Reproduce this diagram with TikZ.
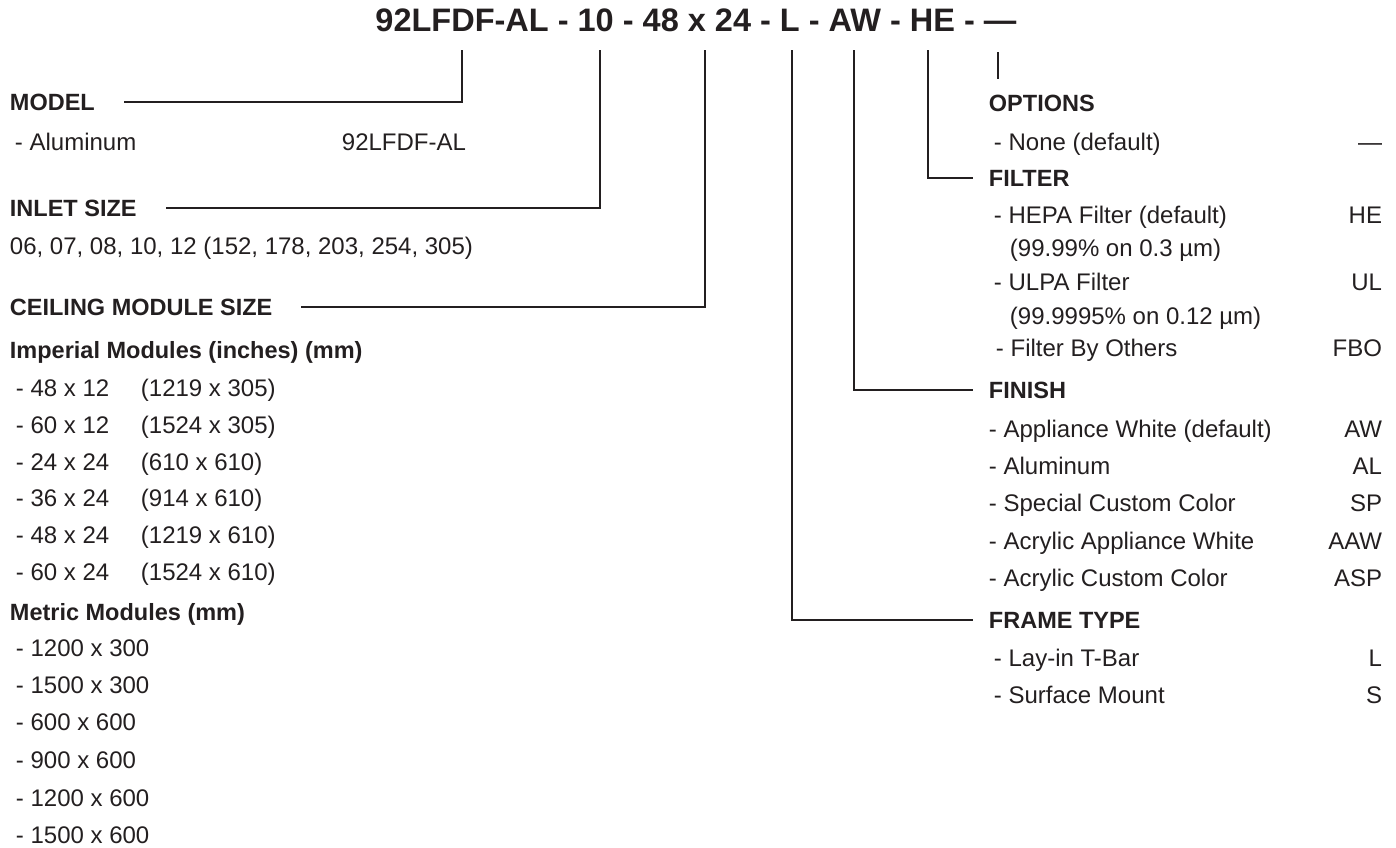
\documentclass[tikz,border=0pt]{standalone}
\usepackage{fontspec}
\setmainfont{Liberation Sans}
\definecolor{ink}{RGB}{35,31,32}

\begin{document}
\begin{tikzpicture}[x=1pt, y=-1pt, color=ink, line width=1.9pt,
    head/.style={anchor=west, inner sep=0pt, text height=16.8pt, text depth=0pt,
      font=\fontsize{23.5}{28}\selectfont\bfseries},
    entry/.style={anchor=west, inner sep=0pt, text height=17.2pt, text depth=0pt,
      font=\fontsize{24}{28}\selectfont},
    code/.style={entry, anchor=east}]

        \useasboundingbox (0,0) rectangle (1396,847);

        % part number
        \node[inner sep=0pt, text height=23.3pt, text depth=0pt,
          font=\fontsize{32.5}{36}\selectfont\bfseries] (title) at (696,20)
          {92LFDF-AL - 10 - 48 x 24 - L - AW - HE - —};

        \coordinate (kmodel) at (462,50);
        \coordinate (kinlet) at (600,50);
        \coordinate (kceiling) at (705,50);
        \coordinate (kframe) at (792,50);
        \coordinate (kfinish) at (854,50);
        \coordinate (kfilter) at (928,50);
        \coordinate (koptions) at (998,52);
        \coordinate (koptionsend) at (998,79);

        % left column
        \node[head] (model) at (9,102) {MODEL};
        \node[entry] (alu) at (14,142) {- Aluminum};
        \node[entry] (aluc) at (341,142) {92LFDF-AL};

        \node[head] (inlet) at (9,208) {INLET SIZE};
        \node[entry] (sizes) at (9,246) {06, 07, 08, 10, 12 (152, 178, 203, 254, 305)};

        \node[head] (ceiling) at (9,307) {CEILING MODULE SIZE};
        \node[head] (imperial) at (9,350) {Imperial Modules (inches) (mm)};
        \node[entry] (imp1) at (15,388) {- 48 x 12}; \node[entry] (impmm1) at (140,388) {(1219 x 305)};
        \node[entry] (imp2) at (15,425) {- 60 x 12}; \node[entry] (impmm2) at (140,425) {(1524 x 305)};
        \node[entry] (imp3) at (15,462) {- 24 x 24}; \node[entry] (impmm3) at (140,462) {(610 x 610)};
        \node[entry] (imp4) at (15,498) {- 36 x 24}; \node[entry] (impmm4) at (140,498) {(914 x 610)};
        \node[entry] (imp5) at (15,535) {- 48 x 24}; \node[entry] (impmm5) at (140,535) {(1219 x 610)};
        \node[entry] (imp6) at (15,572) {- 60 x 24}; \node[entry] (impmm6) at (140,572) {(1524 x 610)};

        \node[head] (metric) at (9,612) {Metric Modules (mm)};
        \node[entry] (met1) at (15,648) {- 1200 x 300};
        \node[entry] (met2) at (15,685) {- 1500 x 300};
        \node[entry] (met3) at (15,722) {- 600 x 600};
        \node[entry] (met4) at (15,760) {- 900 x 600};
        \node[entry] (met5) at (15,798) {- 1200 x 600};
        \node[entry] (met6) at (15,835) {- 1500 x 600};

        % right column
        \node[head] (options) at (988,103) {OPTIONS};
        \node[entry] (none) at (993,142) {- None (default)};
        \node[code] (nonec) at (1383,142) {—};

        \node[head] (filter) at (988,178) {FILTER};
        \node[entry] (hepa) at (993,215) {- HEPA Filter (default)};
        \node[code] (hepac) at (1383,215) {HE};
        \node[entry] (hepanote) at (1009,248) {(99.99\% on 0.3 µm)};
        \node[entry] (ulpa) at (993,282) {- ULPA Filter};
        \node[code] (ulpac) at (1383,282) {UL};
        \node[entry] (ulpanote) at (1009,316) {(99.9995\% on 0.12 µm)};
        \node[entry] (fbo) at (995,348) {- Filter By Others};
        \node[code] (fboc) at (1383,348) {FBO};

        \node[head] (finish) at (988,390) {FINISH};
        \node[entry] (aw) at (988,429) {- Appliance White (default)};
        \node[code] (awc) at (1383,429) {AW};
        \node[entry] (al) at (988,466) {- Aluminum};
        \node[code] (alc) at (1383,466) {AL};
        \node[entry] (sp) at (988,503) {- Special Custom Color};
        \node[code] (spc) at (1383,503) {SP};
        \node[entry] (aaw) at (988,541) {- Acrylic Appliance White};
        \node[code] (aawc) at (1383,541) {AAW};
        \node[entry] (asp) at (988,578) {- Acrylic Custom Color};
        \node[code] (aspc) at (1383,578) {ASP};

        \node[head] (frame) at (988,620) {FRAME TYPE};
        \node[entry] (tbar) at (993,658) {- Lay-in T-Bar};
        \node[code] (tbarc) at (1383,658) {L};
        \node[entry] (surf) at (993,695) {- Surface Mount};
        \node[code] (surfc) at (1383,695) {S};

        % leaders
        \draw (kmodel) |- ([xshift=28pt]model.east);
        \draw (kinlet) |- ([xshift=28pt]inlet.east);
        \draw (kceiling) |- ([xshift=28pt]ceiling.east);
        \draw (kframe) |- ([xshift=-15pt]frame.west);
        \draw (kfinish) |- ([xshift=-15pt]finish.west);
        \draw (kfilter) |- ([xshift=-15pt]filter.west);
        \draw (koptions) -- (koptionsend);

      \end{tikzpicture}
\end{document}
